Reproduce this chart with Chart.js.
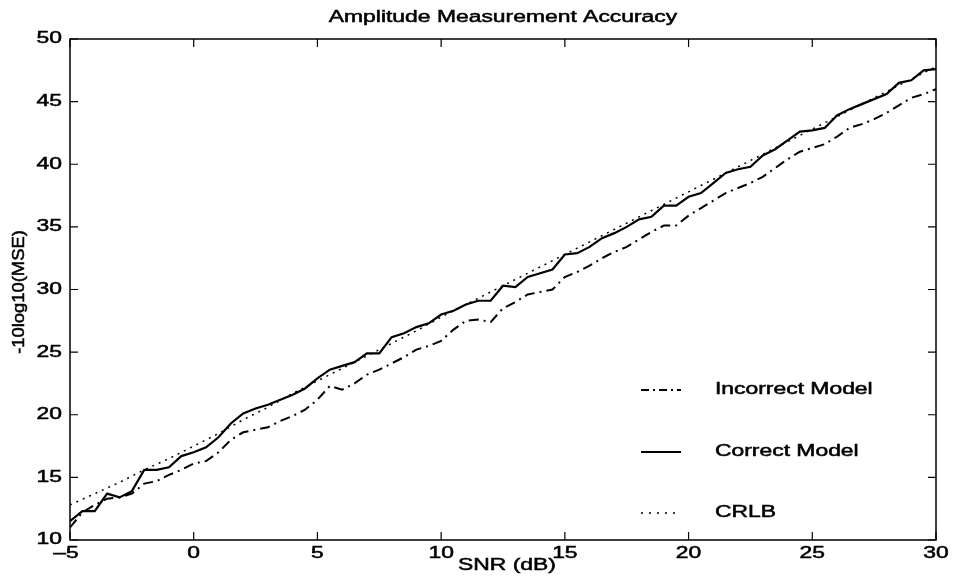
<!DOCTYPE html>
<html>
<head>
<meta charset="utf-8">
<script src="https://cdn.jsdelivr.net/npm/chart.js@4.4.0/dist/chart.umd.min.js"></script>
<style>
  body { margin: 0; background: #fff; }
  #wrap { width: 953px; height: 584px; }
</style>
</head>
<body>
<div id="wrap"><canvas id="grafico"></canvas></div>
<script>
// valores
const snr = [-5,-4.5,-4,-3.5,-3,-2.5,-2,-1.5,-1,-0.5,
  0,0.5,1,1.5,2,2.5,3,3.5,4,4.5,
  5,5.5,6,6.5,7,7.5,8,8.5,9,9.5,
  10,10.5,11,11.5,12,12.5,13,13.5,14,14.5,
  15,15.5,16,16.5,17,17.5,18,18.5,19,19.5,
  20,20.5,21,21.5,22,22.5,23,23.5,24,24.5,
  25,25.5,26,26.5,27,27.5,28,28.5,29,29.5,30]

const correctModel = [11.5,12.3,12.3,13.7,13.4,13.9,15.6,15.6,15.8,16.7,
  17.0,17.4,18.2,19.3,20.1,20.5,20.8,21.2,21.6,22.1,
  22.9,23.6,23.9,24.2,24.9,24.9,26.2,26.5,27.0,27.3,
  28.0,28.3,28.8,29.1,29.1,30.3,30.2,31.0,31.3,31.6,
  32.8,32.9,33.4,34.1,34.5,35.0,35.6,35.8,36.7,36.7,
  37.4,37.7,38.5,39.3,39.6,39.8,40.7,41.2,41.9,42.6,
  42.7,42.9,43.9,44.4,44.8,45.2,45.6,46.5,46.7,47.5,47.6]

const incorrectModel = [11.0,12.2,12.8,13.3,13.4,13.7,14.5,14.7,15.2,15.6,
  16.1,16.3,17.0,18.0,18.6,18.8,19.0,19.5,19.9,20.4,
  21.2,22.3,22.0,22.5,23.2,23.6,24.1,24.6,25.2,25.5,
  25.9,26.8,27.5,27.6,27.4,28.5,29.0,29.6,29.8,30.0,
  31.0,31.4,31.9,32.5,33.0,33.4,34.0,34.6,35.1,35.1,
  35.9,36.5,37.1,37.7,38.1,38.5,39.0,39.7,40.4,41.0,
  41.3,41.6,42.2,42.9,43.2,43.6,44.1,44.7,45.3,45.6,46.0]

const crlbSnr = [-5,-4,-3,-2,-1,0,1,2,3,4,5,6,7,8,9,10,11,12,13,14,15,
  16,17,18,19,20,21,22,23,24,25,26,27,28,29,30]
const crlb = [12.8,13.7,14.6,15.6,16.5,17.5,18.5,19.6,20.6,21.7,22.7,23.7,24.7,25.7,26.7,27.8,28.8,29.8,30.8,31.8,32.8,
  33.8,34.8,35.8,36.8,37.8,38.8,39.8,40.8,41.8,42.8,43.8,44.8,45.8,46.8,47.8]

const xTicks = [-5, 0, 5, 10, 15, 20, 25, 30]
const yTicks = [10, 15, 20, 25, 30, 35, 40, 45, 50]

const fonte = '"Liberation Sans", Arial, Helvetica, sans-serif'
const largura = 1.43 // o texto original sai esticado na horizontal

const pares = (xs, ys) => xs.map((x, i) => ({ x, y: ys[i] }))

function texto(c, s, x, y, align, sx) {
  c.save()
  c.translate(x, y)
  c.scale(sx, 1)
  c.textAlign = align
  c.fillText(s, 0, 0)
  c.strokeText(s, 0, 0)
  c.restore()
}

// moldura, marcas internas, rótulos, títulos e legenda no estilo MATLAB
const moldura = {
  id: 'moldura',
  afterDraw(chart) {
    const c = chart.ctx
    const a = chart.chartArea
    const sx = chart.scales.x
    const sy = chart.scales.y
    c.save()
    c.strokeStyle = '#000'
    c.lineWidth = 1.5
    c.strokeRect(a.left, a.top, a.right - a.left, a.bottom - a.top)
    c.lineWidth = 1.2
    c.beginPath()
    xTicks.forEach(v => {
      const px = sx.getPixelForValue(v)
      c.moveTo(px, a.bottom); c.lineTo(px, a.bottom - 8)
      c.moveTo(px, a.top); c.lineTo(px, a.top + 8)
    })
    yTicks.forEach(v => {
      const py = sy.getPixelForValue(v)
      c.moveTo(a.left, py); c.lineTo(a.left + 8, py)
      c.moveTo(a.right, py); c.lineTo(a.right - 8, py)
    })
    c.stroke()

    c.fillStyle = '#000'
    c.lineWidth = 0.5
    c.textBaseline = 'middle'
    c.font = '16px ' + fonte

    // rótulos dos eixos
    xTicks.forEach(v => texto(c, String(v).replace('-', '\u2013'), sx.getPixelForValue(v) - (v < 0 ? 4 : 0), 554, 'center', largura))
    yTicks.forEach(v => texto(c, String(v), 62, sy.getPixelForValue(v), 'right', largura))

    const cx = (a.left + a.right) / 2
    texto(c, 'Amplitude Measurement Accuracy', cx, 18, 'center', largura)
    texto(c, 'SNR (dB)', cx + 4, 566, 'center', largura)
    c.save()
    c.translate(20, 292)
    c.rotate(-Math.PI / 2)
    texto(c, '-10log10(MSE)', 0, 0, 'center', 1.15)
    c.restore()

    // legenda
    const itens = [
      { txt: 'Incorrect Model', y: 390, dash: [8, 4, 2, 4], w: 2 },
      { txt: 'Correct Model', y: 452, dash: [], w: 2 },
      { txt: 'CRLB', y: 513, dash: [2, 6], w: 1.5 }
    ]
    itens.forEach(it => {
      c.beginPath()
      c.lineWidth = it.w
      c.setLineDash(it.dash)
      c.moveTo(641, it.y); c.lineTo(681, it.y)
      c.stroke()
      c.setLineDash([])
      c.lineWidth = 0.5
      texto(c, it.txt, 715, it.y, 'left', largura)
    })
    c.restore()
  }
}

const ctx = document.getElementById('grafico')

const data = {
  datasets: [
    {
      label: 'Correct Model',
      data: pares(snr, correctModel),
      borderColor: '#000',
      borderWidth: 2.2,
      order: 0
    },
    {
      label: 'Incorrect Model',
      data: pares(snr, incorrectModel),
      borderColor: '#000',
      borderWidth: 2,
      borderDash: [10, 5, 2, 5],
      order: 1
    },
    {
      label: 'CRLB',
      data: pares(crlbSnr, crlb),
      borderColor: '#000',
      borderWidth: 1.5,
      borderDash: [2, 5],
      order: 2
    }
  ]
}

const config = {
  type: 'line',
  data,
  options: {
    responsive: true,
    maintainAspectRatio: false,
    animation: false,
    layout: { padding: { top: 39, right: 17, left: 0, bottom: 0 } },
    elements: { point: { radius: 0 }, line: { tension: 0 } },
    plugins: { legend: { display: false }, title: { display: false }, tooltip: { enabled: false } },
    scales: {
      x: {
        type: 'linear',
        min: -5,
        max: 30,
        afterBuildTicks: s => { s.ticks = xTicks.map(v => ({ value: v })) },
        afterFit: s => { s.height = 44 },
        grid: { display: false, drawTicks: false },
        border: { display: false },
        ticks: { display: false }
      },
      y: {
        type: 'linear',
        min: 10,
        max: 50,
        afterBuildTicks: s => { s.ticks = yTicks.map(v => ({ value: v })) },
        afterFit: s => { s.width = 70 },
        grid: { display: false, drawTicks: false },
        border: { display: false },
        ticks: { display: false }
      }
    }
  },
  plugins: [moldura]
}

const graph = new Chart(ctx, config)
</script>
</body>
</html>
